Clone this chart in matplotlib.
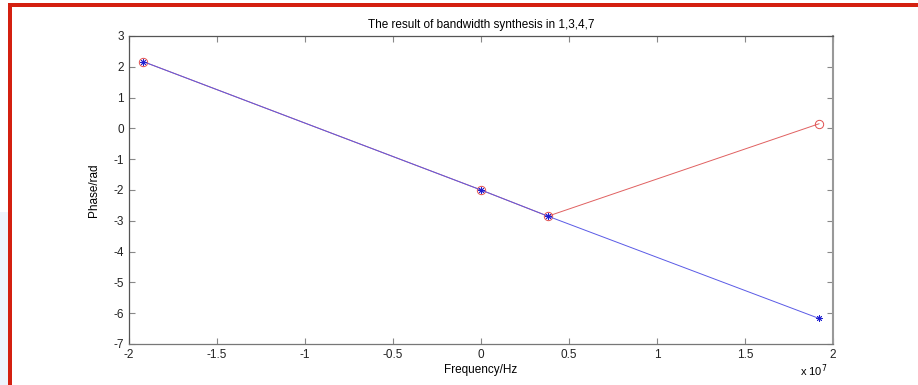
import numpy as np
import matplotlib.pyplot as plt
from matplotlib.patches import Rectangle

plt.rcParams['font.family'] = ['Liberation Sans', 'DejaVu Sans']
plt.rcParams['axes.unicode_minus'] = False

# frequency points (Hz) and phase values (rad)
freq = np.array([-1.92e7, 0.0, 0.38e7, 1.92e7])
phase_syn = np.array([2.17, -2.0, -2.85, 0.15])
phase_fit = np.array([2.17, -2.0, -2.85, -6.17])

xticks = [-2, -1.5, -1, -0.5, 0, 0.5, 1, 1.5, 2]
yticks = list(range(-7, 4))

fig = plt.figure(figsize=(9.18, 3.85), dpi=100)
ax = fig.add_axes([0.1405, 0.1065, 0.767, 0.80])

ax.plot(freq / 1e7, phase_syn, color='#e06060', lw=0.7, marker='o',
        ms=6, mfc='none', mec='#e05050', mew=0.7)
ax.plot(freq / 1e7, phase_fit, color='#5a5ae6', lw=0.7, marker=(8, 2, 0),
        ms=4.5, mec='#2020d0', mew=0.6)

ax.set_xlim(-2, 2)
ax.set_ylim(-7, 3)
ax.set_xticks(xticks)
ax.set_xticklabels(['%g' % t for t in xticks])
ax.set_yticks(yticks)
ax.tick_params(direction='in', length=4, width=0.8, labelsize=8.5,
               top=True, right=True, colors='#888888', labelcolor='#222222')
for sp in ax.spines.values():
    sp.set_color('#555555')
    sp.set_linewidth(0.9)
ax.spines['right'].set_color('#999999')
ax.spines['right'].set_linewidth(1.5)
ax.spines['bottom'].set_color('#777777')

ax.set_title('The result of bandwidth synthesis in 1,3,4,7', fontsize=8.5, pad=6)
ax.set_xlabel('Frequency/Hz', fontsize=8.5, labelpad=2)
ax.set_ylabel('Phase/rad', fontsize=8.5, labelpad=10)
ax.text(0.953, -0.06, r'x 10$^7$', transform=ax.transAxes, fontsize=8,
        ha='left', va='top')

# slide frame
fig.add_artist(Rectangle((8 / 918, 0), 4 / 918, 1 - 3 / 385,
                         transform=fig.transFigure, color='#d42010', lw=0))
fig.add_artist(Rectangle((8 / 918, 1 - 7 / 385), 1 - 8 / 918, 4 / 385,
                         transform=fig.transFigure, color='#d42010', lw=0))
fig.add_artist(Rectangle((0, 0), 8 / 918, 0.45,
                         transform=fig.transFigure, color='#eef4fc', lw=0))

fig.savefig('out.png', dpi=100)
